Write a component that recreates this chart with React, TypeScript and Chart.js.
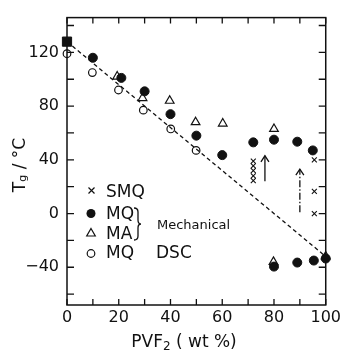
import { useEffect, useRef } from 'react';
import { Chart, registerables } from 'chart.js';

Chart.register(...registerables);

// ---- data ----
const mqMechX = [0, 10, 21, 30, 40, 50, 60, 72, 80, 89, 95, 80, 89, 95.4, 100];
const mqMechY = [128, 116, 101, 91, 74, 58, 43.5, 53, 55, 53.5, 47, -39.5, -36.5, -35, -33.5];
const maX = [19.4, 29.2, 39.7, 49.7, 60.2, 80, 79.8, 100];
const maY = [102, 86, 84, 68, 67, 63, -36, -32];
const dscX = [0, 9.8, 19.9, 29.5, 40.1, 49.9];
const dscY = [119, 105, 92, 77, 63, 47];
const smqX = [72, 72, 72, 72, 72, 72, 95.6, 95.6, 95.6];
const smqY = [52, 39, 35.5, 32, 28, 24.5, 40, 16.5, 0];
const fitX = [0, 100];
const fitY = [128, -32];
const arrowX = [76.5, 90];
const arrowFrom = [24, 1];
const arrowTo = [43, 33];

const xTicks = [0, 10, 20, 30, 40, 50, 60, 70, 80, 90, 100];
const xLabelVals = [0, 20, 40, 60, 80, 100];
const yTicks = [-60, -40, -20, 0, 20, 40, 60, 80, 100, 120, 140];
const yLabelVals = [-40, 0, 40, 80, 120];

const INK = '#111';
const FONT = "'DejaVu Sans', sans-serif";

const pts = (xs: number[], ys: number[]) => xs.map((x, i) => ({ x, y: ys[i] }));

const decorPlugin = {
  id: 'decor',
  beforeDatasetsDraw(chart: any) {
    const { ctx, chartArea: a, scales } = chart;
    const xs = scales.x;
    const ys = scales.y;
    ctx.save();
    ctx.strokeStyle = INK;
    ctx.lineWidth = 1.5;
    ctx.strokeRect(a.left, a.top, a.right - a.left, a.bottom - a.top);
    ctx.lineWidth = 1.3;
    ctx.beginPath();
    for (const v of xTicks) {
      const px = xs.getPixelForValue(v);
      ctx.moveTo(px, a.bottom);
      ctx.lineTo(px, a.bottom - 6);
      ctx.moveTo(px, a.top);
      ctx.lineTo(px, a.top + 6);
    }
    for (const v of yTicks) {
      const py = ys.getPixelForValue(v);
      ctx.moveTo(a.left, py);
      ctx.lineTo(a.left + 7, py);
      ctx.moveTo(a.right, py);
      ctx.lineTo(a.right - 7, py);
    }
    ctx.stroke();

    // arrows
    arrowX.forEach((xv, i) => {
      const px = xs.getPixelForValue(xv);
      const y0 = ys.getPixelForValue(arrowFrom[i]);
      const y1 = ys.getPixelForValue(arrowTo[i]);
      ctx.lineWidth = 1.3;
      ctx.setLineDash(i === 1 ? [7, 2, 1.5, 2] : []);
      ctx.beginPath();
      ctx.moveTo(px, y0);
      ctx.lineTo(px, y1);
      ctx.stroke();
      ctx.setLineDash([]);
      ctx.beginPath();
      ctx.moveTo(px - 4, y1 + 6);
      ctx.lineTo(px, y1);
      ctx.lineTo(px + 4, y1 + 6);
      ctx.stroke();
    });
    ctx.restore();
  },
  afterDraw(chart: any) {
    const { ctx } = chart;
    ctx.save();
    ctx.fillStyle = INK;
    ctx.strokeStyle = INK;
    ctx.textBaseline = 'middle';
    ctx.textAlign = 'left';

    // legend markers
    ctx.lineWidth = 1.2;
    // cross
    ctx.beginPath();
    ctx.moveTo(88.5, 187.5); ctx.lineTo(94.5, 193.5);
    ctx.moveTo(94.5, 187.5); ctx.lineTo(88.5, 193.5);
    ctx.stroke();
    // filled circle
    ctx.beginPath();
    ctx.arc(91, 213.5, 4.5, 0, Math.PI * 2);
    ctx.fill();
    // triangle
    ctx.beginPath();
    ctx.moveTo(91, 228.5); ctx.lineTo(95.3, 236); ctx.lineTo(86.7, 236); ctx.closePath();
    ctx.stroke();
    // open circle
    ctx.beginPath();
    ctx.arc(91, 253.5, 3.8, 0, Math.PI * 2);
    ctx.stroke();

    ctx.font = `17px ${FONT}`;
    ctx.fillText('SMQ', 106, 192.5);
    ctx.fillText('MQ', 106, 214.5);
    ctx.fillText('MA', 106, 234.5);
    ctx.fillText('MQ', 106, 254);
    ctx.fillText('DSC', 156, 254);
    ctx.font = `13px ${FONT}`;
    ctx.fillText('Mechanical', 157, 226);

    // brace
    ctx.lineWidth = 1.3;
    ctx.beginPath();
    ctx.moveTo(134, 208);
    ctx.quadraticCurveTo(138, 208, 138, 212);
    ctx.lineTo(138, 220);
    ctx.quadraticCurveTo(138, 224, 141, 224);
    ctx.quadraticCurveTo(138, 224, 138, 228);
    ctx.lineTo(138, 236);
    ctx.quadraticCurveTo(138, 240, 134, 240);
    ctx.stroke();

    // x title
    ctx.textBaseline = 'alphabetic';
    ctx.font = `17px ${FONT}`;
    const p1 = 'PVF';
    const p3 = ' ( wt %)';
    const w1 = ctx.measureText(p1).width;
    const w3 = ctx.measureText(p3).width;
    ctx.font = `12px ${FONT}`;
    const w2 = ctx.measureText('2').width;
    let x0 = 184 - (w1 + w2 + w3) / 2;
    const by = 347;
    ctx.font = `17px ${FONT}`;
    ctx.fillText(p1, x0, by);
    ctx.font = `12px ${FONT}`;
    ctx.fillText('2', x0 + w1, by + 3);
    ctx.font = `17px ${FONT}`;
    ctx.fillText(p3, x0 + w1 + w2, by);

    // y title
    ctx.translate(25, 165);
    ctx.rotate(-Math.PI / 2);
    ctx.font = `17px ${FONT}`;
    const t1 = 'T';
    const t3 = ' / °C';
    const tw1 = ctx.measureText(t1).width;
    const tw3 = ctx.measureText(t3).width;
    ctx.font = `11px ${FONT}`;
    const tw2 = ctx.measureText('g').width;
    const tx0 = -(tw1 + tw2 + tw3) / 2;
    ctx.font = `17px ${FONT}`;
    ctx.fillText(t1, tx0, 0);
    ctx.font = `11px ${FONT}`;
    ctx.fillText('g', tx0 + tw1, 1);
    ctx.font = `17px ${FONT}`;
    ctx.fillText(t3, tx0 + tw1 + tw2, 0);
    ctx.restore();
  },
};

export default function App() {
  const ref = useRef<HTMLCanvasElement | null>(null);
  useEffect(() => {
    if (!ref.current) return;
    const tickFont = { family: FONT, size: 16 };
    const chart = new Chart(ref.current, {
      type: 'scatter',
      data: {
        datasets: [
          {
            type: 'line',
            data: pts(fitX, fitY),
            borderColor: INK,
            borderWidth: 1.3,
            borderDash: [4, 3],
            pointRadius: 0,
            fill: false,
            clip: false,
          } as any,
          {
            data: pts(smqX, smqY),
            pointStyle: 'crossRot',
            pointRadius: 3.5,
            borderColor: INK,
            borderWidth: 1.1,
            clip: false,
          },
          {
            data: pts(dscX, dscY),
            pointStyle: 'circle',
            pointRadius: 3.8,
            borderColor: INK,
            backgroundColor: 'rgba(255,255,255,0)',
            borderWidth: 1.2,
            clip: false,
          },
          {
            data: pts(maX, maY),
            pointStyle: 'triangle',
            pointRadius: 5,
            borderColor: INK,
            backgroundColor: 'rgba(255,255,255,0)',
            borderWidth: 1.2,
            clip: false,
          },
          {
            data: pts(mqMechX, mqMechY),
            pointStyle: (c: any) => (c.dataIndex === 0 ? 'rect' : 'circle'),
            pointRadius: (c: any) => (c.dataIndex === 0 ? 6.5 : 4.5),
            borderColor: INK,
            backgroundColor: INK,
            borderWidth: 1,
            clip: false,
          } as any,
        ],
      },
      options: {
        animation: false,
        responsive: false,
        maintainAspectRatio: false,
        layout: { padding: { top: 16, right: 16, left: 0, bottom: 0 } },
        plugins: { legend: { display: false }, tooltip: { enabled: false } },
        scales: {
          x: {
            type: 'linear',
            min: 0,
            max: 100,
            afterFit: (s: any) => { s.height = 45; },
            afterBuildTicks: (s: any) => { s.ticks = xTicks.map((v) => ({ value: v })); },
            ticks: {
              autoSkip: false,
              maxRotation: 0,
              padding: 3,
              color: INK,
              font: tickFont,
              callback: (v: any) => (xLabelVals.includes(Number(v)) ? String(v) : ''),
            },
            grid: { display: false, drawTicks: false },
            border: { display: false },
          },
          y: {
            type: 'linear',
            min: -68.1,
            max: 145.9,
            afterFit: (s: any) => { s.width = 67; },
            afterBuildTicks: (s: any) => { s.ticks = yTicks.map((v) => ({ value: v })); },
            ticks: {
              autoSkip: false,
              padding: 8,
              color: INK,
              font: tickFont,
              callback: (v: any) => {
                const n = Number(v);
                if (!yLabelVals.includes(n)) return '';
                return n < 0 ? '\u2212' + Math.abs(n) : String(n);
              },
            },
            grid: { display: false, drawTicks: false },
            border: { display: false },
          },
        },
      },
      plugins: [decorPlugin],
    });
    return () => chart.destroy();
  }, []);
  return (
    <div style={{ position: 'fixed', left: 0, top: 0, width: 344, height: 350, background: '#fff' }}>
      <canvas ref={ref} width={344} height={350} style={{ display: 'block', width: 344, height: 350 }} />
    </div>
  );
}
